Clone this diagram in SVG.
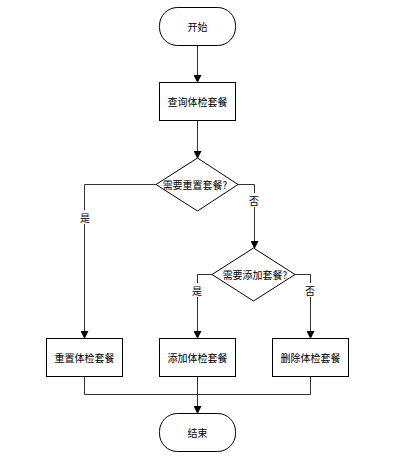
<svg xmlns="http://www.w3.org/2000/svg" width="418" height="466" viewBox="0 0 418 466">
<style>
.n{fill:#fff;stroke:#000;stroke-width:1}
.t{font-family:"Noto Sans CJK SC","Liberation Sans",sans-serif;font-size:10px;fill:#000;text-anchor:middle;dominant-baseline:central}
.c{fill:none;stroke:#333;stroke-width:1}
.lb{fill:#fff}
</style>
<defs>
<marker id="ar" markerWidth="8" markerHeight="8" refX="7" refY="4" orient="auto" markerUnits="userSpaceOnUse">
<path d="M0,0 L8,4 L0,8 Z" fill="#000"/>
</marker>
</defs>
<rect width="418" height="466" fill="#fff"/>
<g id="connectors">
<path class="c" d="M197.5,45 V82" marker-end="url(#ar)"/>
<path class="c" d="M197.5,120 V158" marker-end="url(#ar)"/>
<path class="c" d="M156,184.5 H84.5 V338" marker-end="url(#ar)"/>
<path class="c" d="M238,184.5 H254.5 V248" marker-end="url(#ar)"/>
<path class="c" d="M212,274.5 H197.5 V338" marker-end="url(#ar)"/>
<path class="c" d="M295,274.5 H310.5 V338" marker-end="url(#ar)"/>
<path class="c" d="M84.5,376 V394.5 H310.5 V376"/>
<path class="c" d="M197.5,376 V413" marker-end="url(#ar)"/>
<rect class="lb" x="79" y="210" width="12" height="14"/>
<text class="t" x="85" y="217">是</text>
<rect class="lb" x="248" y="193" width="12" height="14"/>
<text class="t" x="254" y="200">否</text>
<rect class="lb" x="191" y="283" width="12" height="14"/>
<text class="t" x="197" y="290">是</text>
<rect class="lb" x="304" y="283" width="12" height="14"/>
<text class="t" x="310" y="290">否</text>
</g>
<g id="start">
<rect class="n" x="159.5" y="7.5" width="76" height="38" rx="18" ry="18"/>
<text class="t" x="197.5" y="26.5">开始</text>
</g>
<g id="query">
<rect class="n" x="159.5" y="82.5" width="76" height="38"/>
<text class="t" x="197.5" y="101.5">查询体检套餐</text>
</g>
<g id="decision1">
<path class="n" d="M197.5,158 L238,184.5 L197.5,211 L156,184.5 Z"/>
<text class="t" x="195" y="184.5">需要重置套餐?</text>
</g>
<g id="decision2">
<path class="n" d="M253.5,248 L295,274.5 L253.5,301 L212,274.5 Z"/>
<text class="t" x="255" y="274.5">需要添加套餐?</text>
</g>
<g id="reset">
<rect class="n" x="46.5" y="338.5" width="76" height="38"/>
<text class="t" x="84.5" y="357.5">重置体检套餐</text>
</g>
<g id="add">
<rect class="n" x="159.5" y="338.5" width="76" height="38"/>
<text class="t" x="197.5" y="357.5">添加体检套餐</text>
</g>
<g id="delete">
<rect class="n" x="272.5" y="338.5" width="76" height="38"/>
<text class="t" x="310.5" y="357.5">删除体检套餐</text>
</g>
<g id="end">
<rect class="n" x="159.5" y="413.5" width="76" height="38" rx="18" ry="18"/>
<text class="t" x="197.5" y="432.5">结束</text>
</g>
</svg>
